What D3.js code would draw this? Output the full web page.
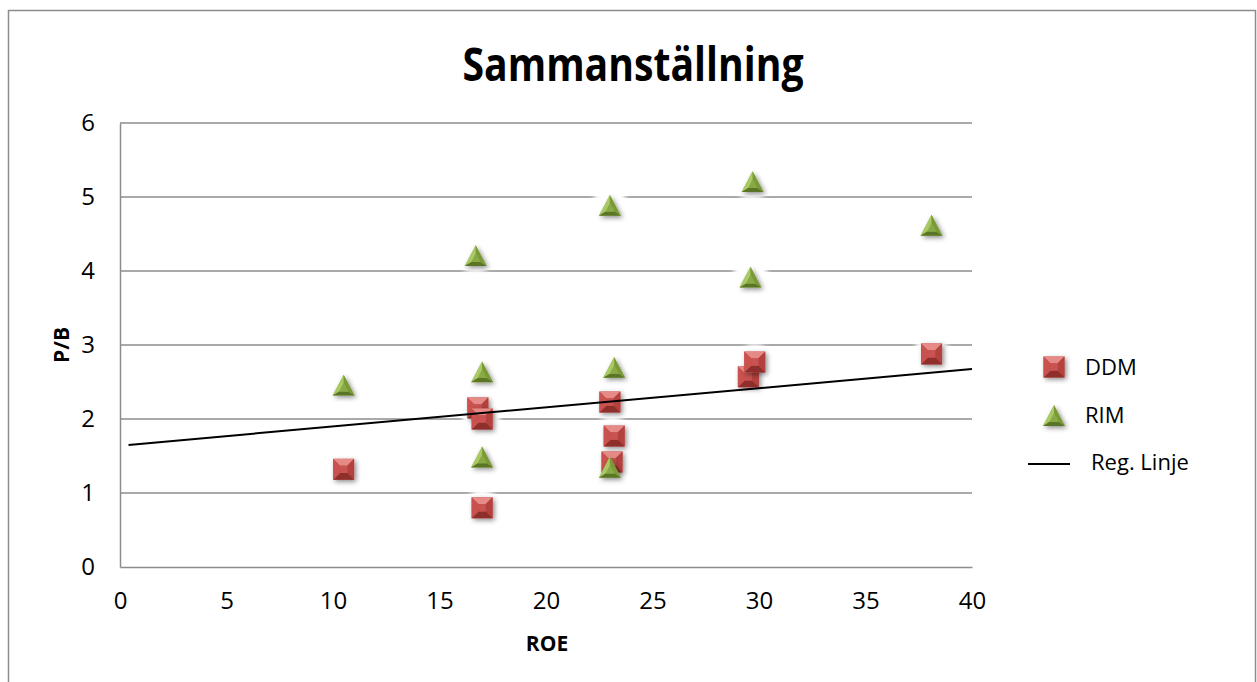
<!DOCTYPE html>
<html lang="sv">
<head>
<meta charset="UTF-8">
<title>Sammanställning</title>
<script src="https://d3js.org/d3.v7.min.js"></script>
<style>
  body { margin: 0; background: #fff; }
  svg text { font-family: "Open Sans", "Noto Sans", sans-serif; }
</style>
</head>
<body>
<div id="chart"></div>
<script>
// data
var ddmROE = [10.5, 16.8, 17.0, 17.0, 23.0, 23.2, 23.1, 29.5, 29.8, 38.1];
var ddmPB  = [1.32, 2.15, 2.00, 0.80, 2.23, 1.77, 1.42, 2.57, 2.77, 2.88];
var rimROE = [10.5, 16.7, 17.0, 17.0, 23.0, 23.2, 23.0, 29.6, 29.7, 38.1];
var rimPB  = [2.45, 4.20, 2.63, 1.48, 4.88, 2.69, 1.34, 3.91, 5.20, 4.61];
var regROE = [0.4, 40];
var regPB  = [1.65, 2.675];
var xTicks = [0, 5, 10, 15, 20, 25, 30, 35, 40];
var yTicks = [0, 1, 2, 3, 4, 5, 6];

var width = 1257, height = 682;
var svg = d3.select("#chart").append("svg")
    .attr("width", width).attr("height", height);

var defs = svg.append("defs");
var halo = defs.append("filter").attr("id", "halo")
    .attr("x", "-50%").attr("y", "-50%").attr("width", "200%").attr("height", "200%");
halo.append("feGaussianBlur").attr("stdDeviation", 2);
var shadow = defs.append("filter").attr("id", "shadow")
    .attr("x", "-50%").attr("y", "-50%").attr("width", "200%").attr("height", "200%");
shadow.append("feDropShadow").attr("dx", 2).attr("dy", 2)
    .attr("stdDeviation", 2.5).attr("flood-color", "#000").attr("flood-opacity", 0.45);

// outer frame
svg.append("rect").attr("x", 8.5).attr("y", 10.5)
   .attr("width", 1247).attr("height", 700)
   .attr("fill", "none").attr("stroke", "#8c8c8c").attr("stroke-width", 1.5);

var x = d3.scaleLinear().domain([0, 40]).range([120, 972]);
var y = d3.scaleLinear().domain([0, 6]).range([567, 123]);

// gridlines
svg.append("g").selectAll("line").data(yTicks.slice(1)).enter().append("line")
   .attr("x1", x(0)).attr("x2", x(40))
   .attr("y1", function(d) { return y(d); }).attr("y2", function(d) { return y(d); })
   .attr("stroke", "#8c8c8c").attr("stroke-width", 1.5);

// axes
var yAxis = svg.append("g").attr("transform", "translate(" + x(0) + ",0)")
   .call(d3.axisLeft(y).tickValues(yTicks).tickFormat(d3.format("d")).tickSize(0).tickPadding(25));
var xAxis = svg.append("g").attr("transform", "translate(0," + y(0) + ")")
   .call(d3.axisBottom(x).tickValues(xTicks).tickFormat(d3.format("d")).tickSize(0).tickPadding(25));
[xAxis, yAxis].forEach(function(a) {
    a.select(".domain").attr("stroke", "#8c8c8c").attr("stroke-width", 1.5);
    a.selectAll("text").attr("font-size", "24px").attr("fill", "#000")
     .style("font-family", "'Open Sans', sans-serif");
});

// markers
function drawSquare(g, s) {
    var i = s * 0.35;
    var faces = [
        [[-s,-s],[s,-s],[i,-i],[-i,-i], "#e58a86"],
        [[s,-s],[s,s],[i,i],[i,-i], "#b3413e"],
        [[s,s],[-s,s],[-i,i],[i,i], "#8e2f2c"],
        [[-s,s],[-s,-s],[-i,-i],[-i,i], "#c9524e"]
    ];
    g.append("rect").attr("x", -s).attr("y", -s).attr("width", 2*s).attr("height", 2*s)
     .attr("fill", "#c0504d").attr("filter", "url(#shadow)");
    faces.forEach(function(f) {
        g.append("path").attr("d", "M" + f.slice(0, 4).join("L") + "Z").attr("fill", f[4]);
    });
    g.append("rect").attr("x", -i).attr("y", -i).attr("width", 2*i).attr("height", 2*i)
     .attr("fill", "#c85350");
}

function drawTriangle(g, s) {
    var A = [0, -s], B = [s, s * 0.9], C = [-s, s * 0.9];
    var k = 0.4, cy = (A[1] + B[1] + C[1]) / 3;
    function inner(p) { return [p[0] * k, cy + (p[1] - cy) * k]; }
    var a = inner(A), b = inner(B), c = inner(C);
    g.append("path").attr("d", "M" + [A, B, C].join("L") + "Z")
     .attr("fill", "#9bbb59").attr("filter", "url(#shadow)");
    g.append("path").attr("d", "M" + [A, C, c, a].join("L") + "Z").attr("fill", "#a9c964");
    g.append("path").attr("d", "M" + [A, B, b, a].join("L") + "Z").attr("fill", "#7a9a38");
    g.append("path").attr("d", "M" + [C, B, b, c].join("L") + "Z").attr("fill", "#5a7526");
    g.append("path").attr("d", "M" + [a, b, c].join("L") + "Z").attr("fill", "#88a946");
}

var ddm = d3.range(ddmROE.length).map(function(i) { return [ddmROE[i], ddmPB[i]]; });
var rim = d3.range(rimROE.length).map(function(i) { return [rimROE[i], rimPB[i]]; });

// white glow that cuts the gridlines around every marker
svg.append("g").selectAll("circle").data(ddm.concat(rim)).enter().append("circle")
   .attr("cx", function(d) { return x(d[0]); }).attr("cy", function(d) { return y(d[1]); })
   .attr("r", 18).attr("fill", "#fff").attr("filter", "url(#halo)");

svg.append("g").selectAll("g").data(ddm).enter().append("g")
   .attr("transform", function(d) { return "translate(" + x(d[0]) + "," + y(d[1]) + ")"; })
   .each(function() { drawSquare(d3.select(this), 10.5); });

svg.append("g").selectAll("g").data(rim).enter().append("g")
   .attr("transform", function(d) { return "translate(" + x(d[0]) + "," + y(d[1]) + ")"; })
   .each(function() { drawTriangle(d3.select(this), 11); });

// regression line
svg.append("path")
   .datum(d3.zip(regROE, regPB))
   .attr("d", d3.line().x(function(d) { return x(d[0]); }).y(function(d) { return y(d[1]); }))
   .attr("fill", "none").attr("stroke", "#000").attr("stroke-width", 2);

// titles
svg.append("text").attr("x", 633).attr("y", 81).attr("text-anchor", "middle")
   .attr("font-size", "47px").attr("font-weight", "bold")
   .attr("textLength", 341).attr("lengthAdjust", "spacingAndGlyphs")
   .text("Sammanställning");
svg.append("text").attr("x", 547).attr("y", 651).attr("text-anchor", "middle")
   .attr("font-size", "21px").attr("font-weight", "bold").text("ROE");
svg.append("text").attr("transform", "translate(69,345) rotate(-90)")
   .attr("text-anchor", "middle")
   .attr("font-size", "21px").attr("font-weight", "bold").text("P/B");

// legend
var leg = svg.append("g");
drawSquare(leg.append("g").attr("transform", "translate(1054,367)"), 10.5);
drawTriangle(leg.append("g").attr("transform", "translate(1054,416)"), 11);
leg.append("line").attr("x1", 1028).attr("x2", 1070).attr("y1", 464).attr("y2", 464)
   .attr("stroke", "#000").attr("stroke-width", 2);
[["DDM", 1085, 375], ["RIM", 1085, 423], ["Reg. Linje", 1091, 470]].forEach(function(t) {
    leg.append("text").attr("x", t[1]).attr("y", t[2])
       .attr("font-size", "22px").text(t[0]);
});
</script>
</body>
</html>
